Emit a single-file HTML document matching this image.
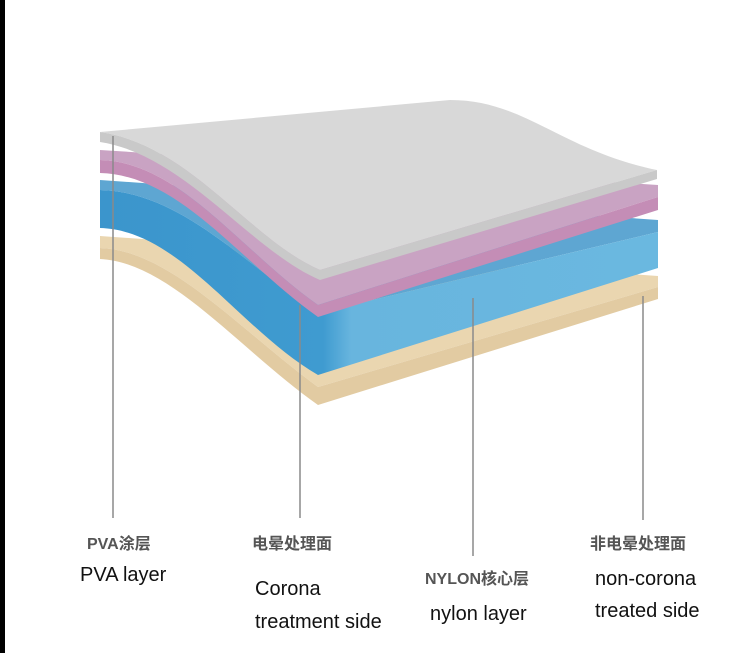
<!DOCTYPE html>
<html><head><meta charset="utf-8"><style>
html,body{margin:0;padding:0;background:#fff;}
body{width:742px;height:653px;position:relative;overflow:hidden;font-family:"Liberation Sans","Noto Sans CJK SC",sans-serif;}
.t{position:absolute;white-space:nowrap;line-height:1;}
.cn{font-size:16px;font-weight:bold;color:#555;}
.en{font-size:20px;color:#111;}
</style></head><body>
<div style="position:absolute;left:0;top:0;width:5px;height:653px;background:#000"></div>
<svg width="742" height="653" style="position:absolute;left:0;top:0">
<defs>
<linearGradient id="bf" x1="0" x2="1" y1="0" y2="0">
<stop offset="0" stop-color="#3b95cc"/><stop offset="0.4" stop-color="#3f9bd0"/><stop offset="0.45" stop-color="#68b5de"/><stop offset="1" stop-color="#6ab8e0"/>
</linearGradient>
</defs>
<path d="M100,236 L658,276 L658,287 L318,387 C240,330 170,250 100,248 Z" fill="#ead6b0"/>
<path d="M100,248 C170,250 240,330 318,387 L658,287 L658,299 L318,405 C240,350 170,262 100,259 Z" fill="#e2cba2"/>
<path d="M100,180 L658,220 L658,232 L318,313 C240,260 180,192 100,190 Z" fill="#5ea6d2"/>
<path d="M100,190 C180,192 240,260 318,313 L658,232 L658,268 L318,375 C240,330 180,230 100,228 Z" fill="url(#bf)"/>
<path d="M100,150 L658,185 L658,197 L318,305 C240,250 180,162 100,160 Z" fill="#c9a3c3"/>
<path d="M100,160 C180,162 240,250 318,305 L658,197 L658,210 L318,317 C240,262 180,175 100,173 Z" fill="#c48db6"/>
<path d="M100,132 L450,100 C525,100 560,150 657,170 L320,270 C250,240 190,145 100,132 Z" fill="#d8d8d8"/>
<path d="M100,132 C190,145 250,240 320,270 L657,170 L657,179 L320,280 C250,250 185,155 100,142 Z" fill="#c9c9c9"/>
<g stroke="#8a8a8a" stroke-width="1.5">
<line x1="113" y1="136" x2="113" y2="518"/>
<line x1="300" y1="305" x2="300" y2="518"/>
<line x1="473" y1="298" x2="473" y2="556"/>
<line x1="643" y1="296" x2="643" y2="520"/>
</g>
</svg>
<div class="t cn" style="left:87px;top:537px">PVA涂层</div>
<div class="t en" style="left:80px;top:565px">PVA layer</div>
<div class="t cn" style="left:252px;top:537px">电晕处理面</div>
<div class="t en" style="left:255px;top:579px">Corona</div>
<div class="t en" style="left:255px;top:612px">treatment side</div>
<div class="t cn" style="left:425px;top:572px">NYLON核心层</div>
<div class="t en" style="left:430px;top:604px">nylon layer</div>
<div class="t cn" style="left:590px;top:537px">非电晕处理面</div>
<div class="t en" style="left:595px;top:569px">non-corona</div>
<div class="t en" style="left:595px;top:601px">treated side</div>
</body></html>
